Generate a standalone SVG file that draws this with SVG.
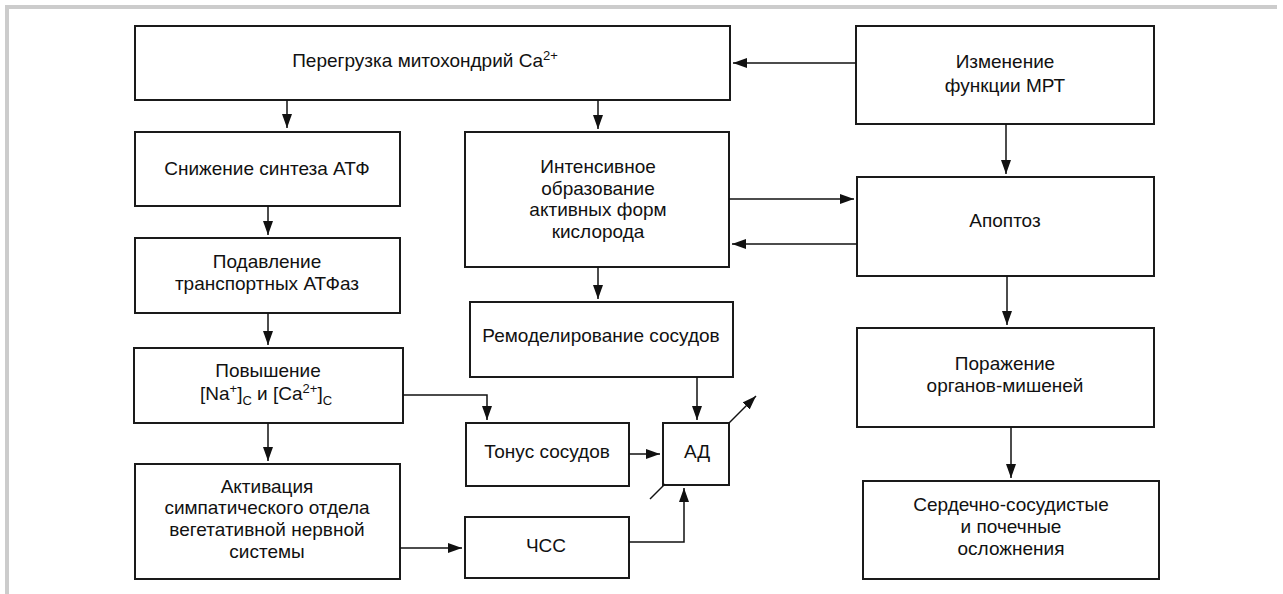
<svg xmlns="http://www.w3.org/2000/svg" width="1283" height="594" viewBox="0 0 1283 594">
<style>
.box{fill:#fff;stroke:#1a1a1a;stroke-width:2}
.t{font-family:"Liberation Sans",Arial,sans-serif;font-size:19px;fill:#111;text-anchor:middle}
.s{font-size:13px}
.c{fill:none;stroke:#111;stroke-width:1.5}
.frame{fill:none;stroke:#cccccc;stroke-width:4}
</style>
<defs>
<marker id="ah" viewBox="0 0 14 10" refX="14" refY="5" markerWidth="14" markerHeight="10" markerUnits="userSpaceOnUse" orient="auto">
<path d="M0,0 L14,5 L0,10 z" fill="#111"/>
</marker>
</defs>
<rect width="1283" height="594" fill="#fff"/>
<path class="frame" d="M7,594 V7 H1277"/>

<g id="n1"><rect class="box" x="135" y="26" width="595" height="74"/>
<text class="t" x="425" y="67">Перегрузка митохондрий Ca<tspan class="s" dy="-7">2+</tspan></text></g>

<g id="n2"><rect class="box" x="856" y="26" width="298" height="98"/>
<text class="t" x="1005" y="68">Изменение</text>
<text class="t" x="1005" y="92">функции МРТ</text></g>

<g id="n3"><rect class="box" x="135" y="132" width="265" height="74"/>
<text class="t" x="267" y="175">Снижение синтеза АТФ</text></g>

<g id="n4"><rect class="box" x="135" y="238" width="265" height="75"/>
<text class="t" x="267" y="268">Подавление</text>
<text class="t" x="267" y="290">транспортных АТФаз</text></g>

<g id="n5"><rect class="box" x="134" y="348" width="269" height="75"/>
<text class="t" x="268" y="377">Повышение</text>
<text class="t" x="266" y="400">[Na<tspan class="s" dy="-7">+</tspan><tspan dy="7">]</tspan><tspan class="s" dy="5">C</tspan><tspan dy="-5"> и [Ca</tspan><tspan class="s" dy="-7">2+</tspan><tspan dy="7">]</tspan><tspan class="s" dy="5">C</tspan></text></g>

<g id="n6"><rect class="box" x="135" y="464" width="265" height="115"/>
<text class="t" x="267" y="493">Активация</text>
<text class="t" x="267" y="514">симпатического отдела</text>
<text class="t" x="267" y="536">вегетативной нервной</text>
<text class="t" x="267" y="558">системы</text></g>

<g id="n7"><rect class="box" x="465" y="132" width="264" height="135"/>
<text class="t" x="598" y="173">Интенсивное</text>
<text class="t" x="598" y="194.5">образование</text>
<text class="t" x="598" y="216">активных форм</text>
<text class="t" x="598" y="237.5">кислорода</text></g>

<g id="n8"><rect class="box" x="470" y="302" width="263" height="75"/>
<text class="t" x="601" y="342">Ремоделирование сосудов</text></g>

<g id="n9"><rect class="box" x="466" y="423" width="163" height="63"/>
<text class="t" x="547" y="458">Тонус сосудов</text></g>

<g id="n10"><rect class="box" x="663" y="423" width="66" height="62"/>
<text class="t" x="697" y="458">АД</text></g>

<g id="n11"><rect class="box" x="465" y="517" width="164" height="61"/>
<text class="t" x="546" y="552">ЧСС</text></g>

<g id="n12"><rect class="box" x="857" y="177" width="297" height="99"/>
<text class="t" x="1005" y="227">Апоптоз</text></g>

<g id="n13"><rect class="box" x="857" y="328" width="297" height="99"/>
<text class="t" x="1005" y="370">Поражение</text>
<text class="t" x="1005" y="392">органов-мишеней</text></g>

<g id="n14"><rect class="box" x="863" y="481" width="296" height="98"/>
<text class="t" x="1011" y="511">Сердечно-сосудистые</text>
<text class="t" x="1011" y="533">и почечные</text>
<text class="t" x="1011" y="555">осложнения</text></g>

<g id="connectors">
<path class="c" marker-end="url(#ah)" d="M287,100 V128"/>
<path class="c" marker-end="url(#ah)" d="M268,206 V235"/>
<path class="c" marker-end="url(#ah)" d="M268,313 V345"/>
<path class="c" marker-end="url(#ah)" d="M268,423 V461"/>
<path class="c" marker-end="url(#ah)" d="M403,395 H487 V420"/>
<path class="c" marker-end="url(#ah)" d="M629,454 H660"/>
<path class="c" marker-end="url(#ah)" d="M697,377 V420"/>
<path class="c" marker-end="url(#ah)" d="M400,548 H462"/>
<path class="c" marker-end="url(#ah)" d="M629,542 H684 V488"/>
<path class="c" marker-end="url(#ah)" d="M729,423 L756,396"/>
<path class="c" d="M650,499 L665,484"/>
<path class="c" marker-end="url(#ah)" d="M598,100 V129"/>
<path class="c" marker-end="url(#ah)" d="M598,267 V299"/>
<path class="c" marker-end="url(#ah)" d="M729,199 H854"/>
<path class="c" marker-end="url(#ah)" d="M857,244 H732"/>
<path class="c" marker-end="url(#ah)" d="M856,63 H733"/>
<path class="c" marker-end="url(#ah)" d="M1006,124 V174"/>
<path class="c" marker-end="url(#ah)" d="M1007,276 V325"/>
<path class="c" marker-end="url(#ah)" d="M1011,427 V478"/>
</g>
</svg>
